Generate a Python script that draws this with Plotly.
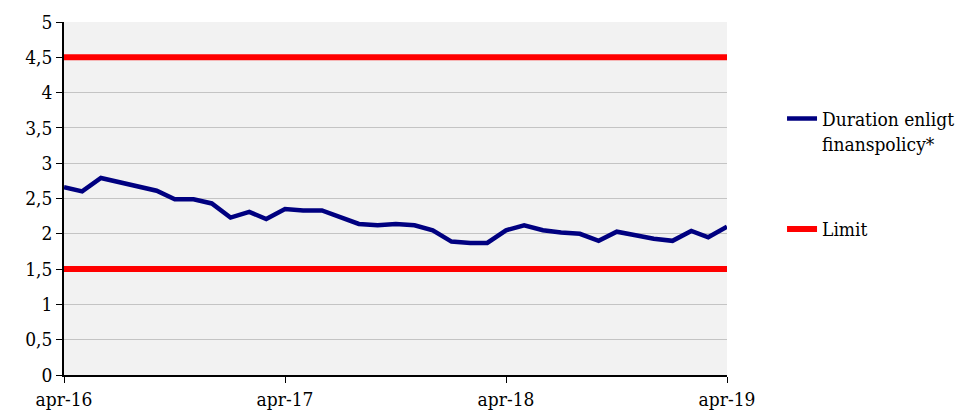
import plotly.graph_objects as go
import pandas as pd

dates = pd.date_range("2016-04-01", "2019-04-01", freq="MS")
duration = [2.66, 2.60, 2.79, 2.73, 2.67, 2.61, 2.49, 2.49, 2.43, 2.23,
            2.31, 2.21, 2.35, 2.33, 2.33, 2.23, 2.14, 2.12, 2.14, 2.12,
            2.05, 1.89, 1.87, 1.87, 2.05, 2.12, 2.05, 2.02, 2.00, 1.90,
            2.03, 1.98, 1.93, 1.90, 2.04, 1.95, 2.10]
limit_low = 1.5
limit_high = 4.5
tick_dates = ["2016-04-01", "2017-04-01", "2018-04-01", "2019-04-01"]
tick_labels = ["apr-16", "apr-17", "apr-18", "apr-19"]
y_ticks = [0, 0.5, 1, 1.5, 2, 2.5, 3, 3.5, 4, 4.5, 5]
y_labels = ["0", "0,5", "1", "1,5", "2", "2,5", "3", "3,5", "4", "4,5", "5"]

FONT = "DejaVu Serif Condensed, DejaVu Serif"

xs = list(dates)
fig = go.Figure()
fig.add_trace(go.Scatter(
    x=xs, y=duration, mode="lines", name="Duration enligt<br>finanspolicy*",
    line=dict(color="#000080", width=4.5), legendgroup="a"))
fig.add_trace(go.Scatter(
    x=xs + [None] + xs,
    y=[limit_high] * len(xs) + [None] + [limit_low] * len(xs),
    mode="lines", name="Limit", connectgaps=False,
    line=dict(color="#FF0000", width=6), legendgroup="b"))

fig.update_layout(
    width=968, height=414,
    margin=dict(l=56, r=249, t=14, b=47),
    paper_bgcolor="white", plot_bgcolor="#F2F2F2",
    font=dict(family=FONT, size=19, color="black"),
    showlegend=True,
    legend=dict(x=1.083, y=0.78, xanchor="left", yanchor="top", valign="top",
                tracegroupgap=58, bgcolor="rgba(0,0,0,0)",
                font=dict(family=FONT, size=19)),
    xaxis=dict(range=[dates[0], dates[-1]], tickvals=tick_dates, ticktext=tick_labels,
               showgrid=False, showline=True, linecolor="black", linewidth=1.5,
               ticks="outside", ticklen=6, tickcolor="black", zeroline=False,
               automargin=False),
    yaxis=dict(range=[0, 5], tickvals=y_ticks, ticktext=y_labels,
               showgrid=True, gridcolor="#C4C4C4", gridwidth=1,
               showline=True, linecolor="black", linewidth=1.5,
               ticks="outside", ticklen=6, tickcolor="black", zeroline=False,
               automargin=False),
)

fig.write_html("out.html")
